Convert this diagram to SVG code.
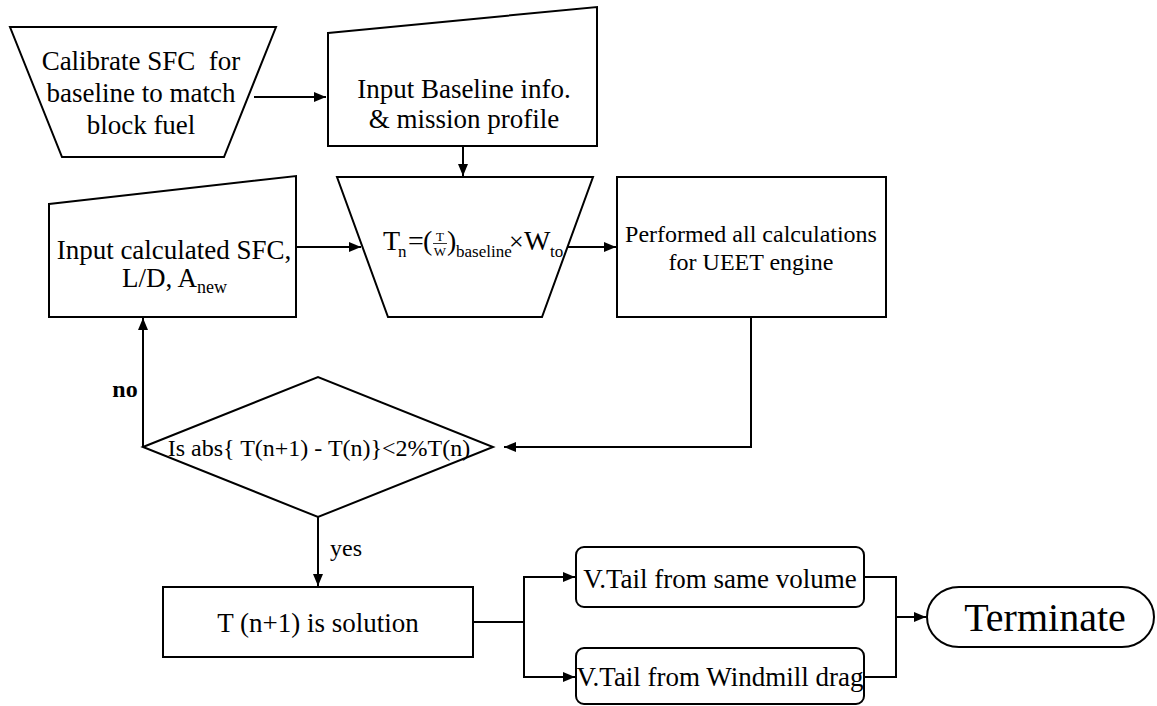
<svg xmlns="http://www.w3.org/2000/svg" width="1157" height="706" viewBox="0 0 1157 706">
<style>
.s{fill:#fff;stroke:#000;stroke-width:2}
.t{font-family:"Liberation Serif","Times New Roman",serif;fill:#000;text-anchor:middle}
.f{font-family:"Liberation Serif","Times New Roman",serif;fill:#000}
.c{fill:none;stroke:#000;stroke-width:2}
</style>
<defs>
<marker id="a" viewBox="0 0 12 10" refX="12" refY="5" markerWidth="12" markerHeight="10" markerUnits="userSpaceOnUse" orient="auto">
<path d="M0,0 L12,5 L0,10 Z" fill="#000"/>
</marker>
</defs>
<rect width="1157" height="706" fill="#fff"/>
<g id="calibrate">
<polygon class="s" points="10,27 276,27 224,157 62,157"/>
<text class="t" font-size="27" style="white-space:pre"><tspan x="141" y="70">Calibrate SFC  for</tspan><tspan x="141" y="102">baseline to match</tspan><tspan x="141" y="134">block fuel</tspan></text>
</g>
<g id="input-baseline">
<polygon class="s" points="328,33 597,7 597,146 328,146"/>
<text class="t" font-size="27"><tspan x="464" y="98">Input Baseline info.</tspan><tspan x="464" y="128">&amp; mission profile</tspan></text>
</g>
<g id="formula">
<polygon class="s" points="337,177 593,177 542,317 388,317"/>
<text class="f" font-size="28" x="383" y="250">T</text>
<text class="f" font-size="17" x="398" y="257">n</text>
<text class="f" font-size="28" x="408" y="250">=</text>
<text class="f" font-size="28" x="423" y="250">(</text>
<text class="t" font-size="13" x="440" y="241">T</text>
<line x1="433" y1="243.5" x2="447" y2="243.5" stroke="#000" stroke-width="0.8"/>
<text class="t" font-size="13" x="440" y="256">W</text>
<text class="f" font-size="28" x="447" y="250">)</text>
<text class="f" font-size="17" x="456" y="257">baseline</text>
<text class="f" font-size="26" x="509" y="250">×</text>
<text class="f" font-size="28" x="524" y="250">W</text>
<text class="f" font-size="17" x="550" y="257">to</text>
</g>
<g id="input-calculated">
<polygon class="s" points="49,204 296,176 296,317 49,317"/>
<text class="t" font-size="27" x="174" y="259">Input calculated SFC,</text>
<text class="f" font-size="27" x="122" y="287">L/D, A<tspan font-size="18" dy="6">new</tspan></text>
</g>
<g id="performed">
<rect class="s" x="617" y="177" width="269" height="140"/>
<text class="t" font-size="24"><tspan x="751" y="242">Performed all calculations</tspan><tspan x="751" y="270">for UEET engine</tspan></text>
</g>
<g id="decision">
<polygon class="s" points="143,447 318,377 493,447 318,517"/>
<text class="t" font-size="24" x="319" y="456">Is abs{ T(n+1) - T(n)}&lt;2%T(n)</text>
</g>
<g id="solution">
<rect class="s" x="163" y="587" width="310" height="70"/>
<text class="t" font-size="27" x="318" y="632">T (n+1) is solution</text>
</g>
<g id="vtail-volume">
<rect class="s" x="576" y="547" width="288" height="60" rx="8"/>
<text class="t" font-size="27" x="720" y="588">V.Tail from same volume</text>
</g>
<g id="vtail-windmill">
<rect class="s" x="576" y="648" width="288" height="56" rx="8"/>
<text class="t" font-size="27" x="720" y="686">V.Tail from Windmill drag</text>
</g>
<g id="terminate">
<rect class="s" x="927" y="587" width="227" height="60" rx="32" ry="30"/>
<text class="t" font-size="40" x="1045" y="631">Terminate</text>
</g>
<g id="connectors">
<line class="c" x1="254" y1="97" x2="326" y2="97" marker-end="url(#a)"/>
<line class="c" x1="463" y1="146" x2="463" y2="176" marker-end="url(#a)"/>
<line class="c" x1="296" y1="247" x2="361" y2="247" marker-end="url(#a)"/>
<line class="c" x1="568" y1="247" x2="616" y2="247" marker-end="url(#a)"/>
<polyline class="c" points="751,317 751,447 504,447" marker-end="url(#a)"/>
<line class="c" x1="143" y1="447" x2="143" y2="318" marker-end="url(#a)"/>
<line class="c" x1="318" y1="517" x2="318" y2="586" marker-end="url(#a)"/>
<polyline class="c" points="473,622 524,622"/>
<polyline class="c" points="524,622 524,577 575,577" marker-end="url(#a)"/>
<polyline class="c" points="524,622 524,677 575,677" marker-end="url(#a)"/>
<polyline class="c" points="864,577 896,577 896,677 864,677"/>
<line class="c" x1="896" y1="617" x2="926" y2="617" marker-end="url(#a)"/>
<text class="t" font-size="24" x="346" y="556">yes</text>
<text class="t" font-size="24" font-weight="bold" x="125" y="397">no</text>
</g>
</svg>
